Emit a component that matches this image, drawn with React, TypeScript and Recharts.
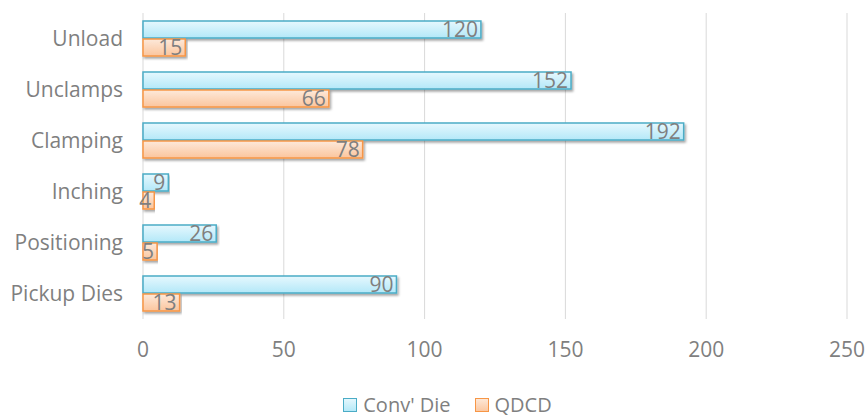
import { Bar, BarChart, CartesianGrid, LabelList, Legend, XAxis, YAxis } from "recharts";

const categories = ["Unload", "Unclamps", "Clamping", "Inching", "Positioning", "Pickup Dies"];
const convDie = [120, 152, 192, 9, 26, 90];
const qdcd = [15, 66, 78, 4, 5, 13];
const xTicks = [0, 50, 100, 150, 200, 250];

const data = categories.map((name, i) => ({ name, conv: convDie[i], qdcd: qdcd[i] }));

const font = "'Open Sans', sans-serif";
const textGray = "#7f7f7f";

function LegendBox() {
  const item = (label: string, fill: string, stroke: string) => (
    <div style={{ display: "flex", alignItems: "center", gap: 6 }}>
      <div style={{ width: 12, height: 12, background: fill, border: `1.5px solid ${stroke}` }} />
      <span>{label}</span>
    </div>
  );
  return (
    <div
      style={{
        display: "flex",
        justifyContent: "center",
        gap: 24,
        fontFamily: font,
        fontSize: 20,
        lineHeight: "24px",
        color: textGray,
        paddingLeft: 48,
      }}
    >
      {item("Conv' Die", "linear-gradient(#e4f7fd, #b5e9f8)", "#4bacc6")}
      {item("QDCD", "linear-gradient(#fde7d6, #fbc8a2)", "#f79646")}
    </div>
  );
}

export default function App() {
  return (
    <div style={{ position: "absolute", left: 0, top: 0, width: 868, height: 417, background: "#fff" }}>
      <BarChart
        width={868}
        height={417}
        data={data}
        layout="vertical"
        margin={{ top: 13, right: 21, left: 0, bottom: 0 }}
        barCategoryGap={8}
        barGap={1}
      >
        <defs>
          <linearGradient id="gConv" x1="0" y1="0" x2="0" y2="1">
            <stop offset="0%" stopColor="#e6f8fe" />
            <stop offset="100%" stopColor="#b3e8f8" />
          </linearGradient>
          <linearGradient id="gQdcd" x1="0" y1="0" x2="0" y2="1">
            <stop offset="0%" stopColor="#fde9da" />
            <stop offset="100%" stopColor="#fbc59d" />
          </linearGradient>
          <filter id="shadow" x="-5%" y="-20%" width="110%" height="160%">
            <feDropShadow dx="1.5" dy="2" stdDeviation="1.2" floodColor="#000" floodOpacity="0.35" />
          </filter>
        </defs>
        <CartesianGrid horizontal={false} stroke="#d9d9d9" strokeWidth={1} />
        <XAxis
          type="number"
          domain={[0, 250]}
          ticks={xTicks}
          axisLine={false}
          tickLine={false}
          tick={{ fontSize: 21, fill: textGray, fontFamily: font }}
          tickMargin={17}
          height={74}
        />
        <YAxis
          type="category"
          dataKey="name"
          width={143}
          axisLine={false}
          tickLine={false}
          tick={{ fontSize: 21, fill: textGray, fontFamily: font }}
          tickMargin={14}
        />
        <Legend verticalAlign="bottom" content={() => <LegendBox />} />
        <Bar
          dataKey="conv"
          name="Conv' Die"
          fill="url(#gConv)"
          stroke="#4bacc6"
          strokeWidth={1.5}
          filter="url(#shadow)"
          isAnimationActive={false}
        >
          <LabelList dataKey="conv" position="insideRight" offset={3} fill={textGray} fontSize={21} fontFamily={font} />
        </Bar>
        <Bar
          dataKey="qdcd"
          name="QDCD"
          fill="url(#gQdcd)"
          stroke="#f79646"
          strokeWidth={1.5}
          filter="url(#shadow)"
          isAnimationActive={false}
        >
          <LabelList dataKey="qdcd" position="insideRight" offset={3} fill={textGray} fontSize={21} fontFamily={font} />
        </Bar>
      </BarChart>
    </div>
  );
}
